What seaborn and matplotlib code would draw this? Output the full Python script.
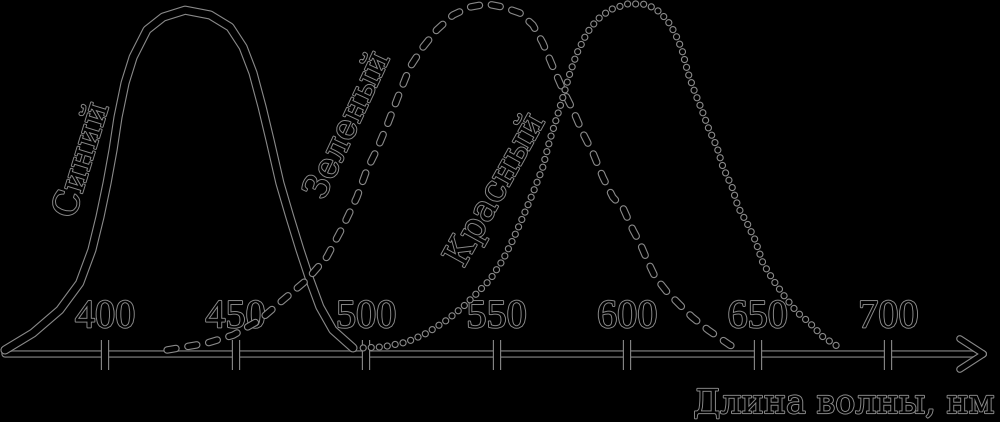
import matplotlib
matplotlib.use("Agg")
import matplotlib.pyplot as plt
import matplotlib.patheffects as pe
import seaborn as sns
import pandas as pd

# ---- data ----
blue_nm = [361.7, 372.4, 382.7, 390.3, 395.0, 398.1, 400.8, 403.1, 405.0, 407.7,
           410.8, 416.1, 422.3, 430.7, 440.3, 447.9, 452.9, 456.7, 460.2, 463.2,
           467.0, 470.8, 474.7, 478.5, 482.3, 487.3, 495.0]
blue_val = [0.0, 0.049, 0.116, 0.194, 0.290, 0.386, 0.484, 0.580, 0.675, 0.774,
            0.849, 0.928, 0.965, 0.985, 0.971, 0.936, 0.878, 0.803, 0.704, 0.609,
            0.484, 0.386, 0.290, 0.203, 0.125, 0.058, 0.006]

green_nm = [423.8, 439.1, 449.1, 459.3, 468.2, 477.3, 485.0, 491.1, 496.5, 500.3,
            504.1, 508.4, 512.2, 516.8, 521.8, 527.1, 533.3, 539.8, 546.3, 552.4,
            558.9, 563.9, 567.7, 571.6, 575.4, 579.2, 583.0, 586.9, 590.7, 594.5,
            598.4, 602.2, 604.9, 608.0, 610.7, 615.3, 619.5, 624.8, 631.0, 639.4, 642.1]
green_val = [0.0, 0.020, 0.043, 0.087, 0.145, 0.203, 0.270, 0.357, 0.443, 0.522,
             0.580, 0.658, 0.733, 0.820, 0.878, 0.928, 0.971, 0.994, 1.003, 0.994,
             0.977, 0.942, 0.890, 0.820, 0.754, 0.696, 0.629, 0.571, 0.501, 0.443,
             0.412, 0.348, 0.310, 0.255, 0.212, 0.168, 0.136, 0.096, 0.058, 0.014, 0.006]

red_nm = [498.9, 506.5, 515.6, 523.3, 531.0, 537.1, 542.5, 547.4, 552.4, 556.2,
          560.1, 563.9, 567.7, 570.4, 573.1, 575.4, 578.1, 580.8, 584.6, 588.4,
          593.4, 599.9, 606.0, 610.7, 615.3, 618.3, 621.0, 623.3, 626.0, 628.6,
          631.0, 634.4, 636.7, 640.2, 642.5, 645.9, 649.0, 652.0, 655.9, 660.4,
          665.0, 670.0, 675.0, 681.5]
red_val = [0.006, 0.009, 0.023, 0.049, 0.087, 0.125, 0.165, 0.203, 0.261, 0.319,
           0.386, 0.455, 0.530, 0.609, 0.675, 0.733, 0.803, 0.861, 0.919, 0.957,
           0.986, 1.003, 1.003, 0.991, 0.957, 0.919, 0.870, 0.803, 0.745, 0.696,
           0.646, 0.588, 0.530, 0.472, 0.414, 0.368, 0.319, 0.252, 0.203, 0.154,
           0.110, 0.078, 0.038, 0.006]

ticks = [400, 450, 500, 550, 600, 650, 700]
tick_labels = ["400", "450", "500", "550", "600", "650", "700"]
curve_labels = ["Синий", "Зеленый", "Красный"]
x_label = "Длина волны, нм"

# ---- style ----
sns.set_theme(style="white")
plt.rcParams["font.family"] = ["DejaVu Serif", "DejaVu Sans"]

OUT = "#8a8a8a"
def outline(lw):
    return [pe.Stroke(linewidth=lw + 1.6, foreground=OUT), pe.Normal()]

fig = plt.figure(figsize=(10, 4.22), dpi=100, facecolor="black")
ax = fig.add_axes([0, 0, 1, 1])
ax.set_facecolor("black")
ax.set_xlim(359.8, 742.8)
ax.set_ylim(-0.2087, 1.0145)
ax.axis("off")

base = -0.0116

# axis with arrow
ax.annotate("", xy=(738.2, base), xytext=(361.7, base),
            arrowprops=dict(arrowstyle="->,head_length=0.85,head_width=0.55",
                            mutation_scale=20, lw=3.6, color="black",
                            shrinkA=0, shrinkB=0, path_effects=outline(3.6)),
            zorder=2)

# ticks
ax.vlines(ticks, base - 0.045, base + 0.040, colors="black", lw=4.4,
          path_effects=outline(4.4), zorder=2)
txt_fx = [pe.withStroke(linewidth=1.4, foreground=OUT)]
for t, lab in zip(ticks, tick_labels):
    ax.text(t, 0.093, lab, ha="center", va="center", fontsize=29,
            family=["Liberation Serif", "DejaVu Serif"], color="black",
            path_effects=txt_fx, zorder=3)

# curves
df_b = pd.DataFrame({"nm": blue_nm, "v": blue_val})
df_g = pd.DataFrame({"nm": green_nm, "v": green_val})
df_r = pd.DataFrame({"nm": red_nm, "v": red_val})

sns.lineplot(data=df_b, x="nm", y="v", ax=ax, sort=False, estimator=None,
             color="black", lw=5.0, solid_capstyle="round", solid_joinstyle="round",
             path_effects=outline(5.0), zorder=4)
sns.lineplot(data=df_g, x="nm", y="v", ax=ax, sort=False, estimator=None,
             color="black", lw=3.8, linestyle=(0, (1.7, 2.3)),
             dash_capstyle="round", path_effects=outline(3.8), zorder=5)
sns.lineplot(data=df_r, x="nm", y="v", ax=ax, sort=False, estimator=None,
             color="black", lw=3.6, linestyle=(0, (0.01, 1.6)),
             dash_capstyle="round", path_effects=outline(3.6), zorder=6)

# curve labels
ax.text(391.2, 0.551, curve_labels[0], rotation=73, rotation_mode="anchor",
        ha="center", va="center", fontsize=25, color="black", path_effects=txt_fx)
ax.text(493.0, 0.652, curve_labels[1], rotation=65, rotation_mode="anchor",
        ha="center", va="center", fontsize=25, color="black", path_effects=txt_fx)
ax.text(549.7, 0.464, curve_labels[2], rotation=61, rotation_mode="anchor",
        ha="center", va="center", fontsize=26, color="black", path_effects=txt_fx)

ax.text(740.9, -0.183, x_label, ha="right", va="baseline", fontsize=24,
        color="black", path_effects=txt_fx)

fig.savefig("out.png", dpi=100, facecolor="black")
